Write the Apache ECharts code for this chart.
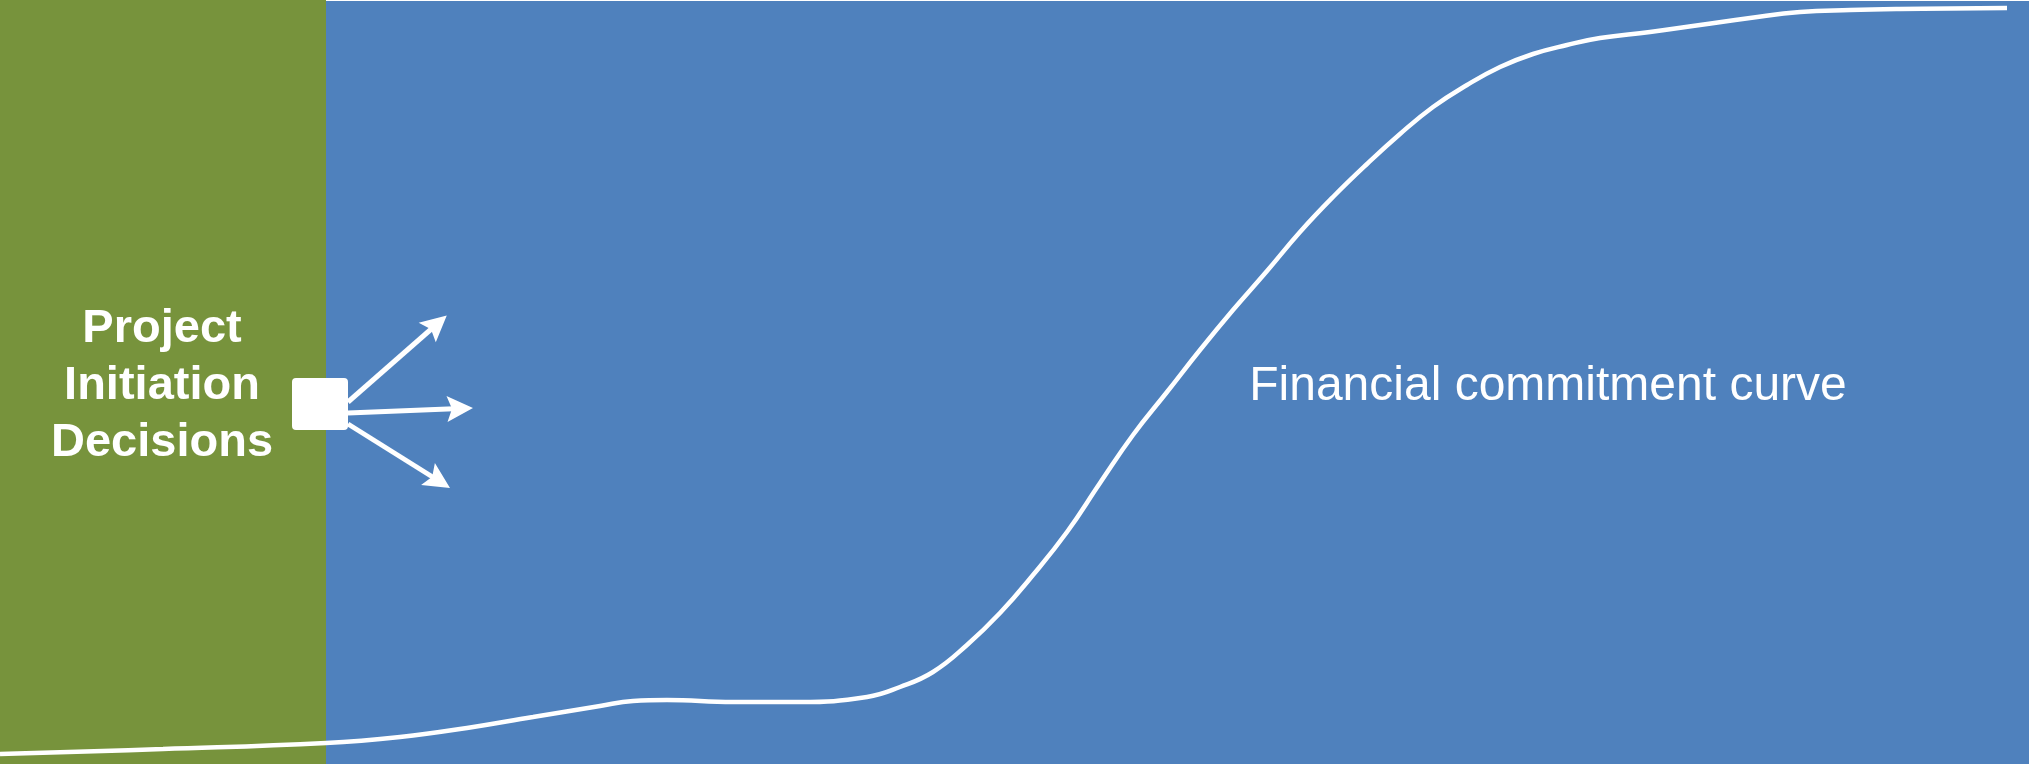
<!DOCTYPE html>
<html>
<head>
<meta charset="utf-8">
<script src="https://cdn.jsdelivr.net/npm/echarts@6/dist/echarts.min.js"></script>
<style>
html,body{margin:0;padding:0;background:#ffffff;}
#chart{width:2029px;height:764px;}
</style>
</head>
<body>
<div id="chart"></div>
<script>
// Timeline position (x) and financial commitment level (y, 0 = bottom)
const curveX = [0, 163, 326, 400, 467, 533, 600, 633, 667, 733, 800, 867, 900, 933, 967, 1000, 1033, 1067, 1100, 1133, 1167, 1200, 1233, 1267, 1300, 1333, 1367, 1400, 1433, 1467, 1500, 1533, 1567, 1600, 1650, 1700, 1750, 1800, 1850, 1900, 2007];
const curveY = [10, 15, 21, 27, 36, 47, 58, 63, 64, 62, 62, 67, 77, 92, 119, 151, 189, 232, 281, 329, 372, 414, 454, 493, 532, 567, 600, 630, 657, 679, 697, 710, 719, 726, 732, 739, 746, 752, 754, 755, 756];

// Phase boundaries along the timeline
const phaseStart = [0, 326];
const phaseEnd = [326, 2029];
const phaseColors = ['#77933C', '#4F81BD'];

// Decision point and option arrows
const decisionPoint = [320, 360];
const arrowFrom = [[348, 362], [348, 351], [348, 340]];
const arrowTo = [[437, 440], [460, 355.5], [439, 283]];

const labelCurve = 'Financial commitment curve';
const labelPhase = 'Project\nInitiation\nDecisions';

const chart = echarts.init(document.getElementById('chart'), null, {renderer: 'canvas'});
const option = {
  animation: false,
  backgroundColor: '#ffffff',
  grid: {left: 0, right: 0, top: 0, bottom: 0},
  xAxis: {type: 'value', min: 0, max: 2029, show: false},
  yAxis: {type: 'value', min: 0, max: 764, show: false},
  series: [
    {
      type: 'line',
      data: [],
      z: 1,
      silent: true,
      markArea: {
        silent: true,
        data: phaseStart.map((s, i) => [
          {xAxis: s, yAxis: 0, itemStyle: {color: phaseColors[i], opacity: 1}},
          {xAxis: phaseEnd[i], yAxis: i === 0 ? 764 : 763}
        ])
      }
    },
    {
      type: 'line',
      z: 3,
      smooth: 0.45,
      showSymbol: false,
      symbol: 'none',
      lineStyle: {color: '#ffffff', width: 4.5},
      data: curveX.map((x, i) => [x, curveY[i]])
    },
    {
      type: 'lines',
      coordinateSystem: 'cartesian2d',
      z: 4,
      symbol: ['none', 'path://M12,0 L24,26 L12,21 L0,26 Z'],
      symbolSize: 26,
      lineStyle: {color: '#ffffff', width: 5, opacity: 1},
      data: arrowFrom.map((f, i) => ({coords: [f, arrowTo[i]]}))
    },
    {
      type: 'scatter',
      z: 5,
      symbol: 'path://M4,0 H52 A4,4 0 0 1 56,4 V48 A4,4 0 0 1 52,52 H4 A4,4 0 0 1 0,48 V4 A4,4 0 0 1 4,0 Z',
      symbolSize: [56, 52],
      itemStyle: {color: '#ffffff', opacity: 1},
      data: [decisionPoint]
    }
  ],
  graphic: [
    {
      type: 'text',
      x: 162, y: 386,
      z: 10,
      style: {
        text: labelPhase,
        align: 'center',
        verticalAlign: 'middle',
        fill: '#ffffff',
        font: 'bold 47px "Liberation Sans", Arial, sans-serif',
        lineHeight: 57
      }
    },
    {
      type: 'text',
      z: 10,
      x: 1548, y: 387,
      style: {
        text: labelCurve,
        align: 'center',
        verticalAlign: 'middle',
        fill: '#ffffff',
        font: '48px "Liberation Sans", Arial, sans-serif'
      }
    }
  ]
};
chart.setOption(option);
</script>
</body>
</html>
